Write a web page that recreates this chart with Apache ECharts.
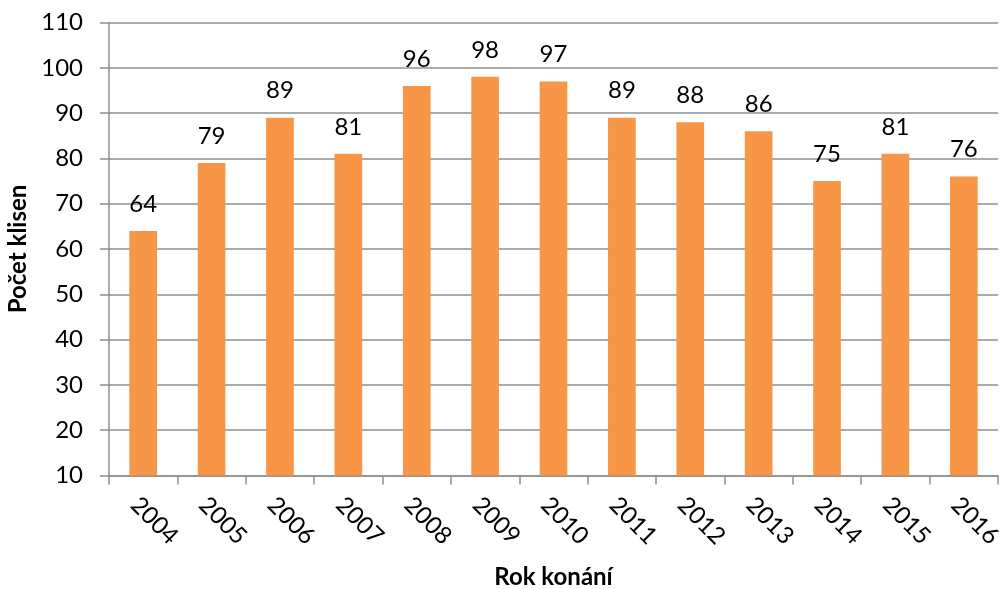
<!DOCTYPE html>
<html>
<head>
<meta charset="utf-8">
<script src="https://cdn.jsdelivr.net/npm/echarts@6/dist/echarts.min.js"></script>
<style>
  html, body { margin: 0; padding: 0; background: #fff; }
  #chart { width: 1006px; height: 589px; }
</style>
</head>
<body>
<div id="chart"></div>
<script>
// Number of mares per year of the event
const years = ['2004', '2005', '2006', '2007', '2008', '2009', '2010', '2011', '2012', '2013', '2014', '2015', '2016'];
const counts = [64, 79, 89, 81, 96, 98, 97, 89, 88, 86, 75, 81, 76];

const FONT = 'Lato, "Open Sans", sans-serif';
const GRID_COLOR = '#8f8f8f';

const chart = echarts.init(document.getElementById('chart'), null, { renderer: 'canvas' });
chart.setOption({
  animation: false,
  textStyle: { fontFamily: FONT },
  grid: { left: 109, right: 8, top: 22.5, bottom: 113.5, containLabel: false, outerBoundsMode: 'none' },
  xAxis: {
    type: 'category',
    data: years,
    boundaryGap: true,
    name: 'Rok konání',
    nameLocation: 'middle',
    nameGap: 90,
    nameTextStyle: { fontFamily: FONT, fontSize: 24, fontWeight: 'bold', color: '#000' },
    axisLine: { lineStyle: { color: GRID_COLOR, width: 1.5 } },
    axisTick: { show: true, alignWithLabel: false, length: 9, lineStyle: { color: GRID_COLOR, width: 1.5 } },
    axisLabel: { rotate: -45, margin: 17, verticalAlign: 'top', fontFamily: FONT, fontSize: 24, color: '#000' }
  },
  yAxis: {
    type: 'value',
    min: 10,
    max: 110,
    interval: 10,
    name: 'Počet klisen',
    nameLocation: 'middle',
    nameGap: 76,
    nameRotate: 90,
    nameTextStyle: { fontFamily: FONT, fontSize: 24, fontWeight: 'bold', color: '#000' },
    axisLine: { show: true, lineStyle: { color: GRID_COLOR, width: 1.5 } },
    axisTick: { show: true, length: 9, lineStyle: { color: GRID_COLOR, width: 1.5 } },
    axisLabel: { margin: 26, fontFamily: FONT, fontSize: 24, color: '#000' },
    splitLine: { show: true, lineStyle: { color: GRID_COLOR, width: 1.5 } }
  },
  series: [{
    type: 'bar',
    data: counts,
    barWidth: '40.5%',
    itemStyle: { color: '#F79646' },
    label: {
      show: true,
      position: 'top',
      distance: 15,
      fontFamily: FONT,
      fontSize: 24,
      color: '#000'
    }
  }]
});
</script>
</body>
</html>
